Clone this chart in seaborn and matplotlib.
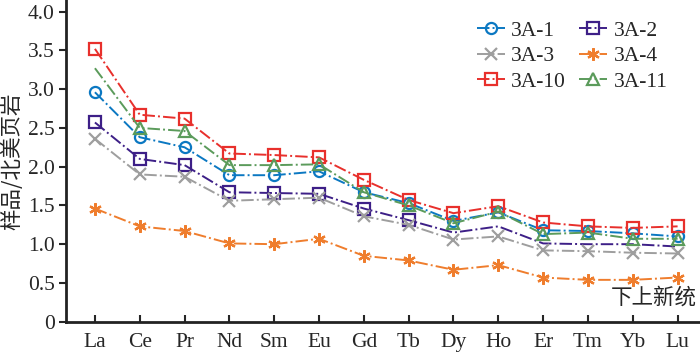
import matplotlib
matplotlib.use("Agg")
import matplotlib.pyplot as plt
import seaborn as sns
import numpy as np

elements = ["La", "Ce", "Pr", "Nd", "Sm", "Eu", "Gd", "Tb", "Dy", "Ho", "Er", "Tm", "Yb", "Lu"]

s_3a1 = [2.96, 2.38, 2.25, 1.89, 1.89, 1.94, 1.67, 1.53, 1.30, 1.41, 1.18, 1.17, 1.14, 1.10]
s_3a2 = [2.57, 2.10, 2.02, 1.67, 1.66, 1.65, 1.46, 1.31, 1.15, 1.23, 1.01, 1.00, 1.00, 0.97]
s_3a3 = [2.36, 1.90, 1.87, 1.56, 1.58, 1.60, 1.36, 1.25, 1.06, 1.10, 0.92, 0.91, 0.89, 0.88]
s_3a4 = [1.46, 1.23, 1.17, 1.01, 1.00, 1.07, 0.85, 0.79, 0.67, 0.73, 0.57, 0.54, 0.54, 0.57]
s_3a10 = [3.52, 2.67, 2.62, 2.17, 2.15, 2.12, 1.83, 1.57, 1.40, 1.49, 1.28, 1.23, 1.21, 1.23]
s_3a11 = [3.27, 2.50, 2.46, 2.02, 2.02, 2.03, 1.67, 1.50, 1.27, 1.42, 1.13, 1.15, 1.07, 1.07]

y_ticks = [0, 0.5, 1.0, 1.5, 2.0, 2.5, 3.0, 3.5, 4.0]
y_tick_labels = ["0", "0.5", "1.0", "1.5", "2.0", "2.5", "3.0", "3.5", "4.0"]

ASTERISK = (6, 2, 0)

# name, values, colour, marker, which points carry a marker
series = [
    ("3A-1", s_3a1, "#0b78c2", "o", None),
    ("3A-2", s_3a2, "#3d1f87", "s", slice(0, 8)),
    ("3A-3", s_3a3, "#9e9e9e", "x", None),
    ("3A-4", s_3a4, "#ef7d2d", ASTERISK, None),
    ("3A-10", s_3a10, "#e8302c", "s", None),
    ("3A-11", s_3a11, "#5b9b5b", "^", slice(1, None)),
]

sns.set_style("ticks")
plt.rcParams["font.family"] = ["Liberation Serif", "Noto Sans CJK SC"]
FS = 15.5

fig = plt.figure(figsize=(7.0, 3.56), dpi=100)
ax = fig.add_axes([0.094, 0.0963, 0.906, 0.9037])

x = np.arange(len(elements))
handles = {}
for name, vals, color, marker, every in series:
    hollow = marker in ("o", "s", "^")
    sns.lineplot(x=x, y=vals, ax=ax, color=color, linestyle="-.", linewidth=1.4,
                 marker=marker, markersize=8 if hollow else 9,
                 markerfacecolor="none" if hollow else color,
                 markeredgecolor=color, markeredgewidth=1.6,
                 markevery=every, label=name)
    handles[name] = ax.lines[-1]

ax.set_xlim(-0.65, 13.5)
ax.set_ylim(0, 4.15)
ax.set_xticks(x)
ax.set_xticklabels(elements)
ax.set_yticks(y_ticks)
ax.set_yticklabels(y_tick_labels)
ax.tick_params(axis="x", direction="in", length=5, width=1.5, labelsize=FS, pad=8)
ax.tick_params(axis="y", direction="out", length=5, width=1.5, labelsize=FS, pad=3)

for side in ("top", "right"):
    ax.spines[side].set_visible(False)
for side in ("left", "bottom"):
    ax.spines[side].set_linewidth(2)
    ax.spines[side].set_color("#222222")

ax.set_ylabel("样品/北美页岩", fontsize=FS, family=["Noto Sans CJK SC"], labelpad=3)

ax.text(0.995, 0.075, "下上新统", transform=ax.transAxes, ha="right", va="center",
        fontsize=FS, family=["Noto Sans CJK SC"])

# row-wise legend order: matplotlib fills columns first
order = ["3A-1", "3A-3", "3A-10", "3A-2", "3A-4", "3A-11"]
ax.legend([handles[n] for n in order], order, loc="upper left",
          bbox_to_anchor=(0.648, 0.935), ncol=2, frameon=False,
          fontsize=FS, handlelength=1.3, handletextpad=0.3, columnspacing=0.6,
          labelspacing=0.25, borderaxespad=0, borderpad=0)

fig.savefig("out.png", dpi=100)
